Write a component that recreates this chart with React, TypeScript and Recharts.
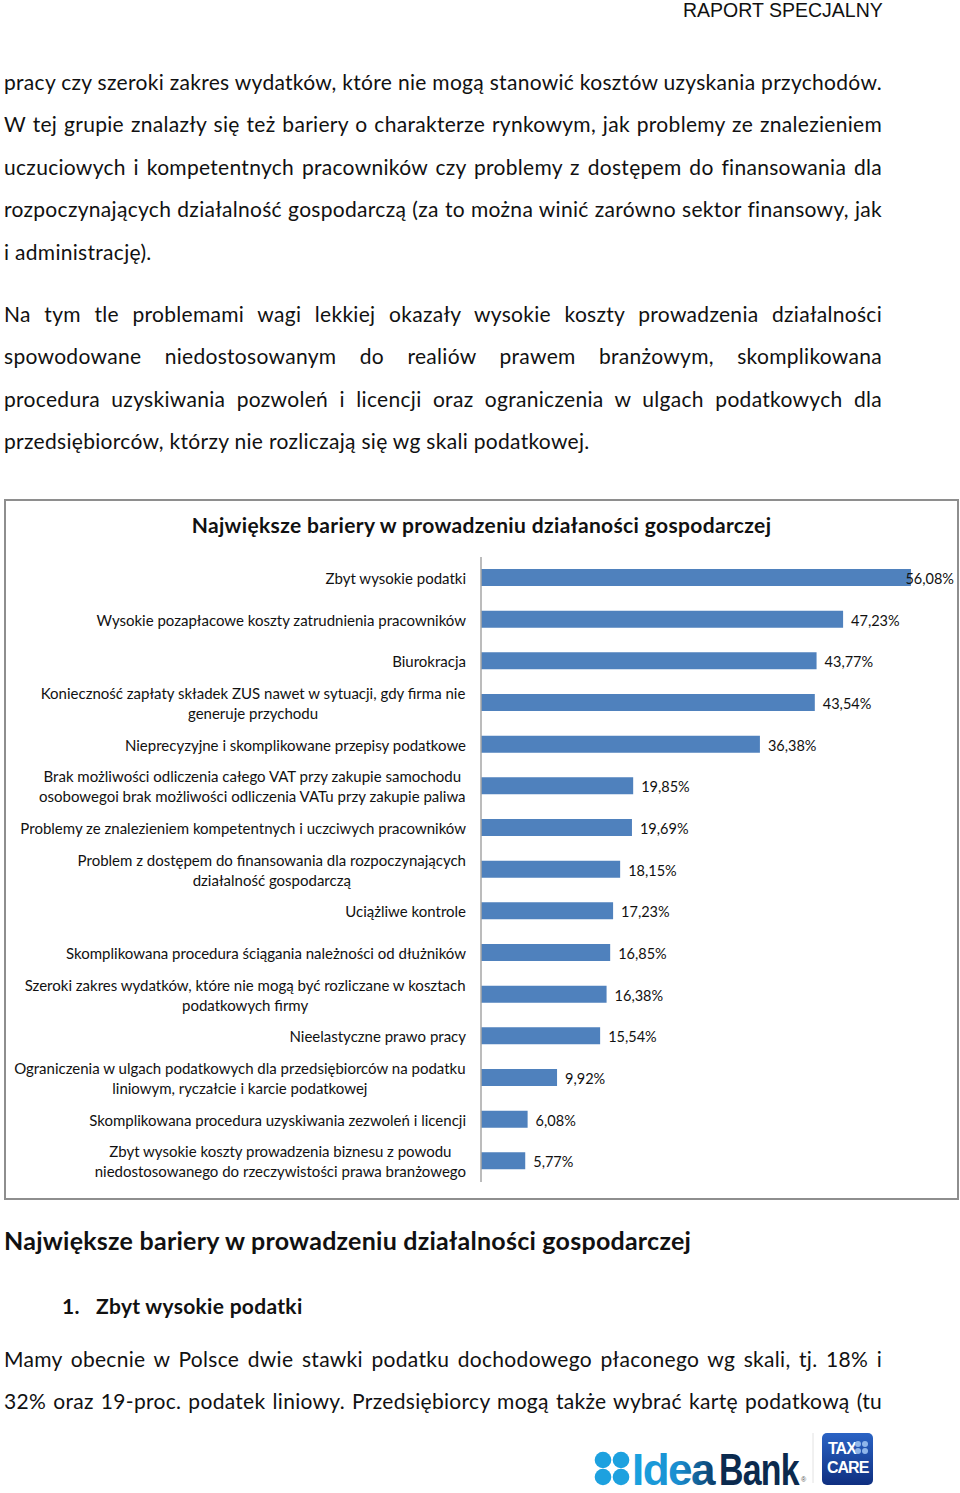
import React from 'react';
import { BarChart, Bar, XAxis, YAxis, LabelList } from 'recharts';

const CATEGORIES = [
  'Zbyt wysokie podatki',
  'Wysokie pozapłacowe koszty zatrudnienia pracowników',
  'Biurokracja',
  'Konieczność zapłaty składek ZUS nawet w sytuacji, gdy firma nie\ngeneruje przychodu',
  'Nieprecyzyjne i skomplikowane przepisy podatkowe',
  'Brak możliwości odliczenia całego VAT przy zakupie samochodu\nosobowegoi brak możliwości odliczenia VATu przy zakupie paliwa',
  'Problemy ze znalezieniem kompetentnych i uczciwych pracowników',
  'Problem z dostępem do finansowania dla rozpoczynających\ndziałalność gospodarczą',
  'Uciążliwe kontrole',
  'Skomplikowana procedura ściągania należności od dłużników',
  'Szeroki zakres wydatków, które nie mogą być rozliczane w kosztach\npodatkowych firmy',
  'Nieelastyczne prawo pracy',
  'Ograniczenia w ulgach podatkowych dla przedsiębiorców na podatku\nliniowym, ryczałcie i karcie podatkowej',
  'Skomplikowana procedura uzyskiwania zezwoleń i licencji',
  'Zbyt wysokie koszty prowadzenia biznesu z powodu\nniedostosowanego do rzeczywistości prawa branżowego',
];

const VALUES = [56.08, 47.23, 43.77, 43.54, 36.38, 19.85, 19.69, 18.15, 17.23, 16.85, 16.38, 15.54, 9.92, 6.08, 5.77];

const CHART_TITLE = 'Największe bariery w prowadzeniu działaności gospodarczej';

const PARAGRAPH_1 = [
  'pracy czy szeroki zakres wydatków, które nie mogą stanowić kosztów uzyskania przychodów.',
  'W tej grupie znalazły się też bariery o charakterze rynkowym, jak problemy ze znalezieniem',
  'uczuciowych i kompetentnych pracowników czy problemy z dostępem do finansowania dla',
  'rozpoczynających działalność gospodarczą (za to można winić zarówno sektor finansowy, jak',
  'i administrację).',
];

const PARAGRAPH_2 = [
  'Na tym tle problemami wagi lekkiej okazały wysokie koszty prowadzenia działalności',
  'spowodowane niedostosowanym do realiów prawem branżowym, skomplikowana',
  'procedura uzyskiwania pozwoleń i licencji oraz ograniczenia w ulgach podatkowych dla',
  'przedsiębiorców, którzy nie rozliczają się wg skali podatkowej.',
];

const PARAGRAPH_3 = [
  'Mamy obecnie w Polsce dwie stawki podatku dochodowego płaconego wg skali, tj. 18% i',
  '32% oraz 19-proc. podatek liniowy. Przedsiębiorcy mogą także wybrać kartę podatkową (tu',
];

const data = CATEGORIES.map((name, i) => ({ name, value: VALUES[i] }));

const BODY_FONT = 'Lato, "Noto Sans", sans-serif';
const LOGO_FONT = '"Liberation Sans", Arial, sans-serif';
const TICK_SIZE = 15;
const TICK_FONT = `${TICK_SIZE}px Lato`;
const VALUE_SIZE = 14.5;
const VALUE_FONT = `${VALUE_SIZE}px Lato`;
const BAR_BLUE = '#4f81bd';
const LABEL_RIGHT = 462;
const VALUE_MAX_RIGHT = 950;

let ctx: CanvasRenderingContext2D | null = null;
function measure(text: string, font: string) {
  if (!ctx) ctx = document.createElement('canvas').getContext('2d');
  if (!ctx) return text.length * 7;
  ctx.font = font;
  return ctx.measureText(text).width;
}

const fmt = (v: number) => v.toFixed(2).replace('.', ',') + '%';

function CategoryTick(props: any) {
  const { y, payload } = props;
  const lines: string[] = String(payload.value).split('\n');
  if (lines.length === 1) {
    return (
      <text x={LABEL_RIGHT} y={y} textAnchor="end" dominantBaseline="central"
        fontFamily={BODY_FONT} fontSize={TICK_SIZE} fill="#111">
        {lines[0]}
      </text>
    );
  }
  // wrapped labels: lines centred on each other, block right-aligned to the axis
  const maxW = Math.max(...lines.map((l) => measure(l, TICK_FONT)));
  const cx = LABEL_RIGHT - maxW / 2;
  return (
    <g>
      {lines.map((l, i) => (
        <text key={i} x={cx} y={y + (i - (lines.length - 1) / 2) * 20}
          textAnchor="middle" dominantBaseline="central"
          fontFamily={BODY_FONT} fontSize={TICK_SIZE} fill="#111">
          {l}
        </text>
      ))}
    </g>
  );
}

function ValueLabel(props: any) {
  const { x, y, width, height, value } = props;
  const text = fmt(Number(value));
  const w = measure(text, VALUE_FONT);
  let tx = x + width + 8;
  if (tx + w > VALUE_MAX_RIGHT) tx = VALUE_MAX_RIGHT - w;
  return (
    <text x={tx} y={y + height / 2 + 1} dominantBaseline="central"
      fontFamily={BODY_FONT} fontSize={VALUE_SIZE} fill="#111">
      {text}
    </text>
  );
}

function Line({ text, y, x = 4, justify = false, size = 21, bold = false, spacing = 0.3 }: {
  text: string; y: number; x?: number; justify?: boolean; size?: number; bold?: boolean; spacing?: number;
}) {
  return (
    <div
      style={{
        position: 'absolute',
        left: x,
        top: y - 16,
        width: justify ? 878 : undefined,
        height: 32,
        lineHeight: '32px',
        whiteSpace: 'nowrap',
        textAlign: justify ? 'justify' : 'left',
        textAlignLast: justify ? 'justify' : 'auto',
        fontFamily: BODY_FONT,
        fontSize: size,
        letterSpacing: spacing,
        fontWeight: bold ? 700 : 400,
        color: '#111',
      }}
    >
      {text}
    </div>
  );
}

function Logos() {
  return (
    <svg width={960} height={80} style={{ position: 'absolute', left: 0, top: 1420 }}>
      <defs>
        <linearGradient id="idea" x1="0" x2="1" y1="0" y2="0">
          <stop offset="0%" stopColor="#1aa3e0" />
          <stop offset="55%" stopColor="#1a8ed0" />
          <stop offset="100%" stopColor="#0b3a66" />
        </linearGradient>
        <linearGradient id="tax" x1="0" x2="0" y1="0" y2="1">
          <stop offset="0%" stopColor="#2a63c4" />
          <stop offset="100%" stopColor="#0f2f80" />
        </linearGradient>
      </defs>
      {[603, 621].map((cx) =>
        [40, 57].map((cy) => <circle key={`${cx}-${cy}`} cx={cx} cy={cy} r={8.3} fill="#1da1df" />)
      )}
      <text x={632} y={65} fontFamily={LOGO_FONT} fontWeight={700}
        fontSize={44} letterSpacing={-1.5} fill="url(#idea)">Idea</text>
      <g transform="translate(719,65) scale(0.77,1)">
        <text x={0} y={0} fontFamily={LOGO_FONT} fontWeight={700}
          fontSize={44} letterSpacing={-1} fill="#0b2a4e">Bank</text>
      </g>
      <text x={801} y={62} fontFamily="Arial, sans-serif" fontSize={7} fill="#555">®</text>
      <line x1={813} x2={813} y1={13} y2={63} stroke="#e2e2e2" strokeWidth={1} />
      <rect x={822} y={13} width={51} height={52} rx={5} fill="url(#tax)" />
      <text x={828} y={34} fontFamily={LOGO_FONT} fontWeight={700}
        fontSize={16} letterSpacing={-1} fill="#fff">TAX</text>
      {[858, 865].map((cx) =>
        [24, 31].map((cy) => <circle key={`t${cx}-${cy}`} cx={cx} cy={cy} r={3} fill="#8fb6ea" />)
      )}
      <text x={827} y={53} fontFamily={LOGO_FONT} fontWeight={700}
        fontSize={16} letterSpacing={-1} fill="#fff">CARE</text>
    </svg>
  );
}

export default function App() {
  return (
    <div style={{ position: 'absolute', left: 0, top: 0, width: 960, height: 1493, background: '#fff', overflow: 'hidden' }}>
      <div style={{ position: 'absolute', left: 683, top: 0, height: 20, lineHeight: '20px', fontFamily: LOGO_FONT, fontSize: 19.5, color: '#111' }}>
        RAPORT SPECJALNY
      </div>

      {PARAGRAPH_1.map((t, i) => (
        <Line key={`p1-${i}`} text={t} y={82 + i * 42.4} justify={i < PARAGRAPH_1.length - 1} />
      ))}
      {PARAGRAPH_2.map((t, i) => (
        <Line key={`p2-${i}`} text={t} y={314 + i * 42.4} justify={i < PARAGRAPH_2.length - 1} />
      ))}

      <div style={{ position: 'absolute', left: 4, top: 499, width: 951, height: 697, border: '2px solid #8e8e8e', background: '#fff' }}>
        <div style={{ position: 'absolute', left: 0, width: 951, top: 10, textAlign: 'center', fontFamily: BODY_FONT, fontWeight: 700, fontSize: 21, letterSpacing: 0.35, lineHeight: '28px', color: '#111' }}>
          {CHART_TITLE}
        </div>
        <div style={{ position: 'absolute', left: -2, top: -2 }}>
          <BarChart width={955} height={700} data={data} layout="vertical"
            margin={{ top: 58, right: 18, bottom: 17, left: 0 }}>
            <XAxis type="number" domain={[0, 60]} hide />
            <YAxis type="category" dataKey="name" width={477} interval={0}
              axisLine={{ stroke: '#a6a6a6', strokeWidth: 1.5 }} tickLine={false}
              tick={<CategoryTick />} />
            <Bar dataKey="value" fill={BAR_BLUE} barSize={17} isAnimationActive={false}>
              <LabelList dataKey="value" content={<ValueLabel />} />
            </Bar>
          </BarChart>
        </div>
      </div>

      <Line text="Największe bariery w prowadzeniu działalności gospodarczej" y={1240} size={25} spacing={0.25} bold />
      <Line text="1." x={62} y={1306} bold />
      <Line text="Zbyt wysokie podatki" x={96} y={1306} bold />
      {PARAGRAPH_3.map((t, i) => (
        <Line key={`p3-${i}`} text={t} y={1359 + i * 42.4} justify />
      ))}

      <Logos />
    </div>
  );
}
